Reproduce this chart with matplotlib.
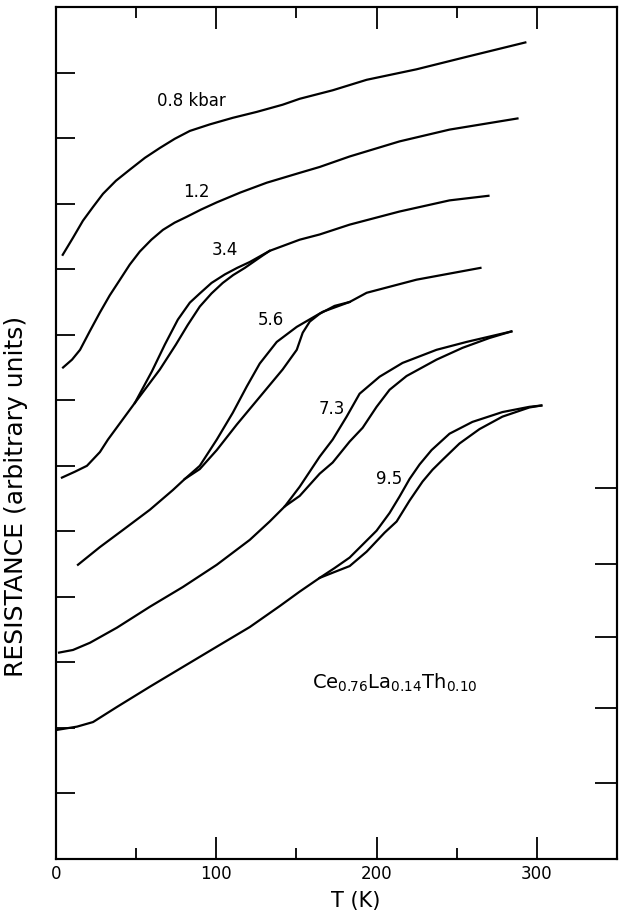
import matplotlib
matplotlib.use("Agg")
import matplotlib.pyplot as plt

plt.rcParams['font.family'] = ['DejaVu Sans']
plt.rcParams['mathtext.default'] = 'regular'

# --- data: T (K) vs resistance (arbitrary units) ---
# 0.8 kbar
t08 = [4.2, 10.6, 16.8, 23.1, 29.3, 37.4, 46.1, 55.5, 64.8, 74.1, 83.5, 96.0, 110.3, 125.2, 141.4,
       152.0, 172.6, 193.8, 224.9, 256.1, 292.8]
r08 = [9.22, 9.48, 9.74, 9.95, 10.15, 10.35, 10.52, 10.70, 10.85, 10.99, 11.11, 11.21, 11.31, 11.40, 11.51,
       11.60, 11.73, 11.89, 12.05, 12.24, 12.46]

# 1.2 kbar
t12 = [4.4, 10.0, 15.0, 21.0, 27.4, 33.5, 39.9, 46.0, 52.3, 59.5, 66.7, 74.0, 81.6, 90.5, 100.3, 115.0,
       131.5, 152.0, 164.5, 183.2, 214.3, 245.5, 287.9]
r12 = [7.50, 7.62, 7.77, 8.05, 8.34, 8.60, 8.84, 9.07, 9.27, 9.45, 9.60, 9.71, 9.80, 9.91, 10.02, 10.17,
       10.32, 10.47, 10.56, 10.72, 10.95, 11.13, 11.30]

# 3.4 kbar (two branches of the loop)
t34_a = [3.7, 11.8, 19.3, 27.4, 32.4, 40.5, 49.2, 59.8, 67.9, 76.0, 83.5, 89.7, 97.0, 105.3, 113.0,
         120.9, 133.3, 152.0, 164.5, 183.2, 214.3, 245.5, 269.8]
r34_a = [5.82, 5.91, 6.00, 6.21, 6.40, 6.67, 6.96, 7.44, 7.85, 8.23, 8.49, 8.63, 8.79, 8.92, 9.02,
         9.11, 9.28, 9.45, 9.53, 9.68, 9.88, 10.05, 10.12]
t34_b = [49.2, 64.8, 74.8, 82.2, 89.7, 97.0, 104.0, 110.5, 117.8, 129.0, 133.3]
r34_b = [6.96, 7.47, 7.85, 8.15, 8.43, 8.63, 8.79, 8.91, 9.02, 9.21, 9.28]

# 5.6 kbar
t56_a = [13.7, 27.4, 41.7, 58.6, 72.9, 80.4, 89.7, 100.3, 110.3, 119.0, 127.1, 137.7, 150.2, 166.4,
         183.2, 193.8, 224.9, 264.8]
r56_a = [4.49, 4.76, 5.02, 5.33, 5.63, 5.80, 6.00, 6.40, 6.81, 7.21, 7.56, 7.89, 8.12, 8.35,
         8.50, 8.64, 8.84, 9.02]
t56_b = [80.4, 89.7, 100.3, 112.8, 127.1, 141.4, 150.2, 153.9, 158.3, 164.5, 173.8, 183.2]
r56_b = [5.80, 5.95, 6.24, 6.63, 7.05, 7.47, 7.77, 8.03, 8.20, 8.32, 8.44, 8.50]

# 7.3 kbar
t73_a = [1.9, 10.6, 21.2, 38.0, 58.6, 79.1, 100.3, 120.9, 133.3, 142.7, 152.0, 164.5, 172.6, 181.3,
         189.4, 201.9, 216.2, 237.4, 256.1, 284.1]
r73_a = [3.15, 3.19, 3.30, 3.53, 3.85, 4.15, 4.49, 4.87, 5.15, 5.38, 5.68, 6.14, 6.40, 6.75,
         7.10, 7.36, 7.57, 7.77, 7.89, 8.05]
t73_b = [142.7, 152.0, 164.5, 172.6, 183.2, 191.3, 200.0, 208.1, 218.7, 237.4, 253.6, 270.4, 284.1]
r73_b = [5.38, 5.54, 5.88, 6.05, 6.37, 6.58, 6.90, 7.16, 7.37, 7.62, 7.80, 7.95, 8.05]

# 9.5 kbar
t95_a = [0.5, 13.1, 23.1, 38.0, 58.6, 79.1, 100.3, 120.9, 139.6, 152.0, 164.5, 173.8, 183.2, 200.0,
         208.1, 214.3, 220.6, 226.8, 234.3, 245.5, 259.8, 278.5, 295.3, 302.8]
r95_a = [1.97, 2.02, 2.09, 2.32, 2.63, 2.93, 3.24, 3.54, 3.86, 4.08, 4.29, 4.44, 4.60, 5.01,
         5.28, 5.53, 5.80, 6.02, 6.24, 6.49, 6.67, 6.82, 6.90, 6.92]
t95_b = [164.5, 173.8, 183.2, 193.8, 205.0, 212.5, 220.6, 228.7, 234.9, 241.1, 251.7, 264.2, 278.5,
         295.3, 302.8]
r95_b = [4.29, 4.38, 4.47, 4.69, 4.98, 5.15, 5.47, 5.76, 5.94, 6.09, 6.34, 6.56, 6.75,
         6.89, 6.92]

curves = [(t08, r08), (t12, r12), (t34_a, r34_a), (t34_b, r34_b), (t56_a, r56_a), (t56_b, r56_b),
          (t73_a, r73_a), (t73_b, r73_b), (t95_a, r95_a), (t95_b, r95_b)]

# pressure labels (kbar) and where they sit
labels = ["0.8 kbar", "1.2", "3.4", "5.6", "7.3", "9.5"]
label_t = [84.7, 87.7, 105.1, 134.0, 172.3, 208.0]
label_r = [11.56, 10.18, 9.29, 8.23, 6.87, 5.80]

xticks_major = [0, 100, 200, 300]
xticks_minor = [50, 150, 250]
yticks_left = list(range(1, 13))
yticks_right = [1.16, 2.31, 3.39, 4.50, 5.66]

# --- figure ---
fig = plt.figure(figsize=(6.23, 9.16), dpi=100)
ax = fig.add_axes([0.0899, 0.0622, 0.9005, 0.9301])

for t, r in curves:
    ax.plot(t, r, color='black', lw=1.6, solid_joinstyle='round')

for txt, x, y in zip(labels, label_t, label_r):
    ax.text(x, y, txt, ha='center', va='center', fontsize=12)

ax.text(160, 2.69, r'Ce$_{0.76}$La$_{0.14}$Th$_{0.10}$', ha='left', va='center', fontsize=14)

ax.set_xlim(0, 350)
ax.set_ylim(0, 13)

ax.set_xticks(xticks_major)
ax.set_xticks(xticks_minor, minor=True)
ax.set_xticklabels([str(v) for v in xticks_major], fontsize=12)
ax.set_yticks(yticks_left)
ax.set_yticklabels([])

ax.tick_params(axis='x', which='major', direction='in', length=16, width=1.3, top=True, pad=4)
ax.tick_params(axis='x', which='minor', direction='in', length=8, width=1.3, top=True)
ax.tick_params(axis='y', which='major', direction='in', length=14, width=1.3, left=True, right=False)

ax2 = ax.twinx()
ax2.set_ylim(0, 13)
ax2.set_yticks(yticks_right)
ax2.set_yticklabels([])
ax2.tick_params(axis='y', direction='in', length=16, width=1.3)

for a in (ax, ax2):
    for s in a.spines.values():
        s.set_linewidth(1.5)

ax.set_xlabel('T (K)', fontsize=15)
ax.xaxis.set_label_coords((356 - 56) / 561, -0.037)
ax.set_ylabel('RESISTANCE (arbitrary units)', fontsize=18)
ax.yaxis.set_label_coords(-0.05, 0.425)

fig.savefig('out.png', dpi=100)
